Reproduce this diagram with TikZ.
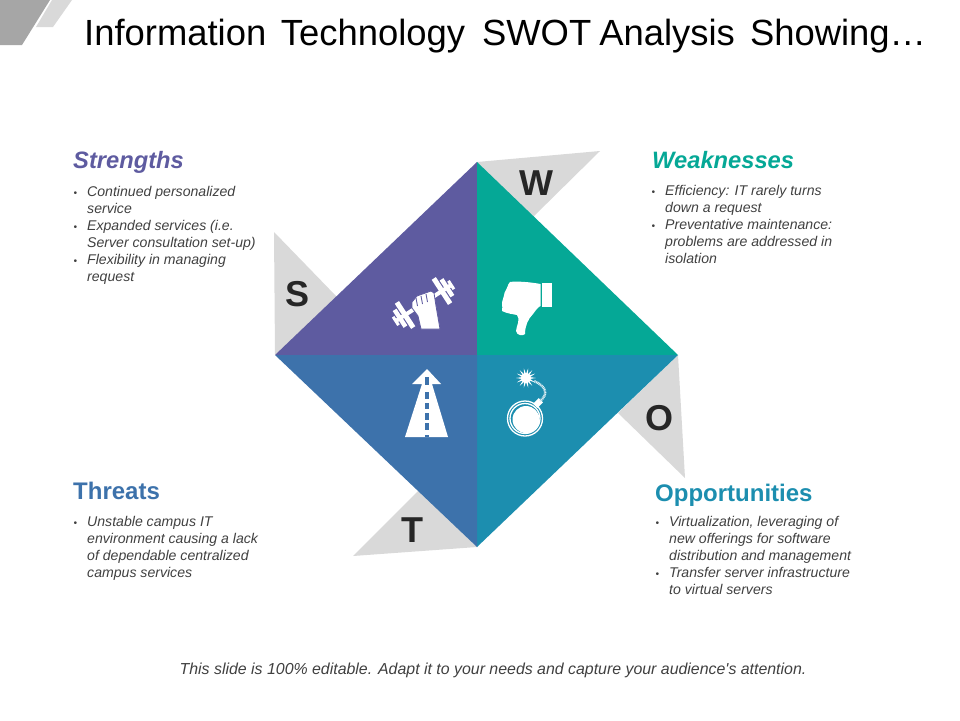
\documentclass[tikz,border=0pt]{standalone}
\usepackage{fontspec}
\usepackage{xcolor}
\setmainfont{Liberation Sans}
\definecolor{swotpurple}{HTML}{5E5BA0}
\definecolor{swotteal}{HTML}{05A896}
\definecolor{swotblue}{HTML}{3D72AB}
\definecolor{swotcyan}{HTML}{1C8EAF}
\definecolor{swotgrey}{HTML}{D9D9D9}
\definecolor{cornergrey}{HTML}{A6A6A6}
\definecolor{bodygrey}{HTML}{404040}
\newcommand{\bulletmark}{\llap{\fontsize{10}{10}\selectfont\textbullet\hspace{10pt}}}
\tikzset{
  heading/.style={anchor=base west, inner sep=0pt, font=\fontsize{24}{26}\selectfont\bfseries},
  headingit/.style={anchor=base west, inner sep=0pt, font=\fontsize{23.7}{26}\selectfont\bfseries\itshape},
  bodytext/.style={anchor=north west, inner sep=0pt, align=left, text=bodygrey,
    font=\fontsize{14.1}{16.85}\selectfont\itshape},
  letter/.style={inner sep=0pt, text=black!85, font=\fontsize{36}{36}\selectfont\bfseries},
  icon/.style={fill=white, draw=none}
}
\begin{document}
\begin{tikzpicture}[x=1pt, y=-1pt]
\useasboundingbox (0,0) rectangle (960,720);
% corner marks
\fill[cornergrey] (0,0) -- (50,0) -- (22,45) -- (0,45) -- cycle;
\fill[swotgrey] (52,0) -- (72,0) -- (53,27) -- (36,27) -- cycle;
\node[anchor=base west, inner sep=0pt, text=black, font=\fontsize{36.4}{40}\selectfont] (title) at (84,45)
  {Information\hspace{4.5pt} Technology\hspace{7pt} SWOT\hspace{-2pt} Analysis\hspace{5pt} Showing…};
% grey flaps
\fill[swotgrey] (477,162) -- (600,151) -- (530,220) -- cycle;
\fill[swotgrey] (274,232) -- (337,297) -- (275,355) -- cycle;
\fill[swotgrey] (678,355) -- (685,478) -- (618,413) -- cycle;
\fill[swotgrey] (477,547) -- (353,556) -- (419,490) -- cycle;
% four quarters
\coordinate (mid) at (477,355);
\coordinate (top) at (477,162);
\coordinate (lft) at (275,355);
\coordinate (rgt) at (678,355);
\coordinate (bot) at (477,547);
\fill[swotpurple] (mid) -- (lft) -- (top) -- cycle;
\fill[swotteal] (mid) -- (top) -- (rgt) -- cycle;
\fill[swotcyan] (mid) -- (rgt) -- (bot) -- cycle;
\fill[swotblue] (mid) -- (bot) -- (lft) -- cycle;
\node[letter] (s) at (298,294) {S};
\node[letter] (w) at (536,183) {W};
\node[letter] (o) at (659,418) {O};
\node[letter] (t) at (412,530) {T};
% dumbbell and fist
\begin{scope}[shift={(423.5,303)}, rotate=33]
\fill[icon] (-33,-2) rectangle (33,2);
\foreach \a/\w/\h in {-33/3/5, -28/4.5/10, -22/5/15, 22/5/15, 28/4.5/10, 33/3/5} {
  \fill[icon] (\a-\w/2,-\h) rectangle (\a+\w/2,\h);
}
\end{scope}
\fill[icon, draw=swotpurple, line width=0.8pt] (412,302) -- (417,296) -- (431,291) -- (434,293) -- (436,306) -- (440,329) -- (421,329) -- (418,316) -- (412,308) -- cycle;
\foreach \a/\b in {416/298, 421/296, 426/294} {
  \draw[swotpurple, line width=0.9pt] (\a,\b) -- (\a+1.5,\b+8);
}
% thumb down
\fill[icon] (542,283) rectangle (552,307);
\fill[icon] (540.5,284) .. controls (530,282) and (516,281) .. (510,282) .. controls (507,285) and (508,288) .. (506,290)
  .. controls (503,294) and (505,296) .. (503,299) .. controls (501,303) and (503,306) .. (502,311) .. controls (508,314) and (513,314) .. (517,315)
  .. controls (521,319) and (516,327) .. (516,331) .. controls (517,336) and (523,336) .. (525,334)
  .. controls (525,326) and (528,319) .. (533,314) .. controls (536,310) and (538,307) .. (540.5,306) -- cycle;
% road with arrow
\fill[icon] (405,437) -- (422,384) -- (412,384) -- (427,369) -- (441,384) -- (432,384) -- (448,437) -- cycle;
\foreach \a/\b in {377/385, 392/399, 403/409, 413/420, 423/430, 435/437} {
  \fill[swotblue] (424.5,\a) rectangle (429,\b);
}
% bomb
\draw[white, line width=1.3pt] (525,418.5) circle (17.5);
\draw[white, line width=1.3pt] (525,418.5) circle (15);
\fill[icon] (526,419.5) circle (13.5);
\fill[icon, rotate around={45:(538,403)}] (534,400) rectangle (542,406);
\draw[white!85!swotcyan, line width=2.4pt, dash pattern=on 1pt off 0.6pt] (540,401) .. controls (549,394) and (546,386) .. (534,381);
\fill[icon] (536,378)
  \foreach \i in {1,...,27} {
    -- ({526+(mod(\i,2)==0 ? 10 : 4.2)*cos(\i*12.857)},{378+(mod(\i,2)==0 ? 10 : 4.2)*sin(\i*12.857)})
  } -- cycle;
% left texts
\node[headingit, text=swotpurple] (shead) at (73,168.5) {Strengths};
\node[bodytext] (sbody) at (87,186.5) {\bulletmark Continued personalized\\service\\
  \bulletmark Expanded services (i.e.\\Server consultation set-up)\\
  \bulletmark Flexibility in managing\\request};
\node[heading, text=swotblue] (thead) at (73,499) {Threats};
\node[bodytext] (tbody) at (87,516.5) {\bulletmark Unstable campus IT\\environment causing a lack\\of dependable centralized\\campus services};
% right texts
\node[headingit, text=swotteal] (whead) at (652,168.5) {Weaknesses};
\node[bodytext] (wbody) at (665,185.5) {\bulletmark Efficiency: IT rarely turns\\down a request\\
  \bulletmark Preventative maintenance:\\problems are addressed in\\isolation};
\node[heading, text=swotcyan] (ohead) at (655,501) {Opportunities};
\node[bodytext] (obody) at (669,516.5) {\bulletmark Virtualization, leveraging of\\new offerings for software\\distribution and management\\
  \bulletmark Transfer server infrastructure\\to virtual servers};
% footer
\node[inner sep=0pt, text=bodygrey, font=\fontsize{15.9}{20}\selectfont\itshape] (foot) at (493,670)
  {This slide is 100\% editable. Adapt it to your needs and capture your audience\textquotesingle s attention.};
\end{tikzpicture}
\end{document}
